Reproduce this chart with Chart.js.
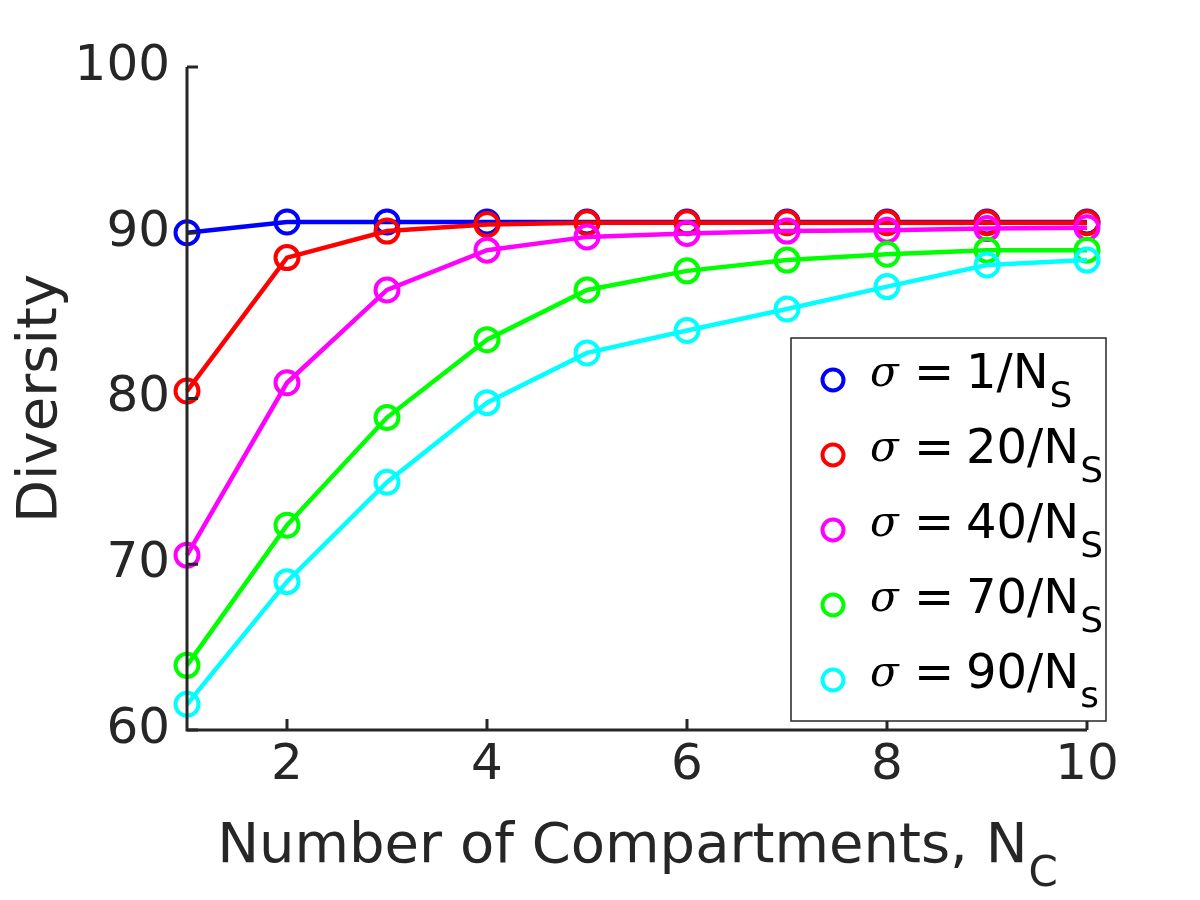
<!DOCTYPE html>
<html>
<head>
<meta charset="utf-8">
<script src="https://cdn.jsdelivr.net/npm/chart.js@4/dist/chart.umd.min.js"></script>
<style>
  html, body { margin: 0; padding: 0; background: #fff; }
  #wrap { width: 1200px; height: 900px; }
</style>
</head>
<body>
<div id="wrap"><canvas id="chart" width="1200" height="900"></canvas></div>
<script>
const compartments = [1, 2, 3, 4, 5, 6, 7, 8, 9, 10];

const sigma1 = [90.0, 90.65, 90.65, 90.65, 90.65, 90.65, 90.65, 90.65, 90.65, 90.65];
const sigma20 = [80.45, 88.5, 90.1, 90.5, 90.6, 90.6, 90.6, 90.6, 90.6, 90.6];
const sigma40 = [70.55, 80.95, 86.55, 88.95, 89.75, 89.95, 90.1, 90.15, 90.25, 90.3];
const sigma70 = [63.9, 72.35, 78.85, 83.55, 86.55, 87.7, 88.35, 88.7, 88.95, 88.95];
const sigma90 = [61.55, 68.95, 74.95, 79.75, 82.75, 84.1, 85.4, 86.75, 88.05, 88.35];

const sigmaNumerators = ['1', '20', '40', '70', '90'];
const sigmaSubscripts = ['S', 'S', 'S', 'S', 's'];
const seriesColors = ['#0000ff', '#ff0000', '#ff00ff', '#00ff00', '#00ffff'];

const xTicks = [2, 4, 6, 8, 10];
const yTicks = [60, 70, 80, 90, 100];

const axisColor = '#262626';
const baseFont = "'DejaVu Sans', sans-serif";

const seriesValues = [sigma1, sigma20, sigma40, sigma70, sigma90];

const datasets = seriesValues.map((vals, i) => ({
    label: 'σ = ' + sigmaNumerators[i] + '/N' + sigmaSubscripts[i],
    data: compartments.map((x, j) => ({ x: x, y: vals[j] })),
    borderColor: seriesColors[i],
    backgroundColor: 'rgba(0,0,0,0)',
    borderWidth: 4.5,
    pointRadius: 11.5,
    pointBorderWidth: 4,
    pointBackgroundColor: 'rgba(0,0,0,0)',
    pointBorderColor: seriesColors[i],
    tension: 0,
    clip: false,
    order: 5 - i
}));

// inward tick marks, axis titles and the boxed legend
const decorations = {
    id: 'decorations',
    afterDraw(chart) {
        const ctx = chart.ctx;
        const xs = chart.scales.x;
        const ys = chart.scales.y;
        const area = chart.chartArea;

        ctx.save();
        ctx.strokeStyle = axisColor;
        ctx.lineWidth = 3;
        ctx.beginPath();
        ctx.moveTo(area.left, area.top);
        ctx.lineTo(area.left, area.bottom);
        ctx.lineTo(area.right, area.bottom);
        ctx.stroke();

        ctx.beginPath();
        yTicks.forEach(v => {
            const py = ys.getPixelForValue(v);
            ctx.moveTo(area.left, py);
            ctx.lineTo(area.left + 11, py);
        });
        xTicks.forEach(v => {
            const px = xs.getPixelForValue(v);
            ctx.moveTo(px, area.bottom);
            ctx.lineTo(px, area.bottom - 11);
        });
        ctx.stroke();

        // x title with subscript
        ctx.fillStyle = axisColor;
        ctx.textBaseline = 'alphabetic';
        const mainTxt = 'Number of Compartments, N';
        ctx.font = '56px ' + baseFont;
        const wMain = ctx.measureText(mainTxt).width;
        ctx.font = '42px ' + baseFont;
        const wSub = ctx.measureText('C').width;
        const cx = (area.left + area.right) / 2;
        const startX = cx - (wMain + wSub) / 2;
        ctx.textAlign = 'left';
        ctx.font = '56px ' + baseFont;
        ctx.fillText(mainTxt, startX, 862);
        ctx.font = '42px ' + baseFont;
        ctx.fillText('C', startX + wMain + 1, 886);

        // y title
        ctx.save();
        ctx.translate(56, (area.top + area.bottom) / 2);
        ctx.rotate(-Math.PI / 2);
        ctx.textAlign = 'center';
        ctx.font = '56px ' + baseFont;
        ctx.fillText('Diversity', 0, 0);
        ctx.restore();

        // legend box
        const bx = 791, by = 338, bw = 315, bh = 383;
        ctx.fillStyle = '#ffffff';
        ctx.fillRect(bx, by, bw, bh);
        ctx.strokeStyle = axisColor;
        ctx.lineWidth = 1.5;
        ctx.strokeRect(bx, by, bw, bh);

        chart.data.datasets.forEach((ds, i) => {
            const rowY = 380 + i * 75;
            ctx.beginPath();
            ctx.strokeStyle = ds.borderColor;
            ctx.lineWidth = 4;
            ctx.arc(833, rowY, 10.5, 0, Math.PI * 2);
            ctx.stroke();

            ctx.fillStyle = '#000000';
            ctx.textAlign = 'left';
            ctx.font = "italic 42px 'DejaVu Serif', serif";
            ctx.fillText('σ', 870, rowY + 6);
            ctx.font = '48px ' + baseFont;
            ctx.fillText('=', 914, rowY + 8);
            const numTxt = sigmaNumerators[i] + '/N';
            ctx.fillText(numTxt, 966, rowY + 8);
            const w = ctx.measureText(numTxt).width;
            ctx.font = '36px ' + baseFont;
            ctx.fillText(sigmaSubscripts[i], 966 + w + 1, rowY + 27);
        });
        ctx.restore();
    }
};

new Chart(document.getElementById('chart').getContext('2d'), {
    type: 'line',
    data: { datasets: datasets },
    options: {
        responsive: false,
        animation: false,
        layout: { padding: { top: 67, right: 113, left: 0, bottom: 0 } },
        plugins: {
            legend: { display: false },
            tooltip: { enabled: false }
        },
        scales: {
            x: {
                type: 'linear',
                min: 1,
                max: 10,
                afterBuildTicks: s => { s.ticks = xTicks.map(v => ({ value: v })); },
                afterFit: s => { s.height = 170; },
                grid: { display: false, drawTicks: false },
                border: { display: false },
                ticks: {
                    color: axisColor,
                    font: { family: baseFont, size: 50 },
                    padding: 6,
                    maxRotation: 0
                }
            },
            y: {
                type: 'linear',
                min: 60,
                max: 100,
                afterBuildTicks: s => { s.ticks = yTicks.map(v => ({ value: v })); },
                afterFit: s => { s.width = 187; },
                grid: { display: false, drawTicks: false },
                border: { display: false },
                ticks: {
                    color: axisColor,
                    font: { family: baseFont, size: 50 },
                    padding: 17
                }
            }
        }
    },
    plugins: [decorations]
});
</script>
</body>
</html>
